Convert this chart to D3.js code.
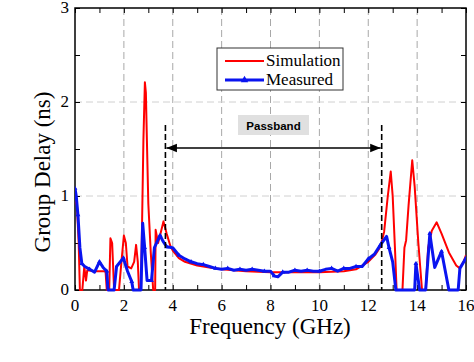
<!DOCTYPE html>
<style>
body { margin: 0; background: #fff; }
</style>
<svg width="474" height="362"></svg>
<script src="https://d3js.org/d3.v7.min.js"></script>
<script>

// simulated group delay (ns) vs frequency (GHz)
var simFreq  = [0,0.08,0.15,0.2,0.3,0.38,0.45,0.5,0.8,1.0,1.25,1.3,1.4,1.45,1.52,1.6,1.8,1.9,2.0,2.08,2.15,2.3,2.42,2.5,2.57,2.62,2.7,2.75,2.8,2.86,2.9,2.95,3.0,3.1,3.2,3.28,3.3,3.4,3.5,3.62,3.75,3.9,4.0,4.25,4.5,5.0,5.5,6.0,7.0,8.0,9.0,10.0,11.0,11.5,12.0,12.3,12.5,12.65,12.8,12.92,13.0,13.1,13.16,13.4,13.48,13.55,13.65,13.8,13.9,14.05,14.2,14.35,14.45,14.6,14.8,15.0,15.3,15.6,15.75,15.9,16.0];
var simDelay = [0.95,0.9,0.5,0,0,0.25,0.1,0.21,0.2,0.2,0.2,0,0,0.55,0.5,0,0,0.3,0.58,0.5,0.25,0.23,0.3,0.48,0.3,0,0,0.8,1.6,2.21,2.1,1.5,0.92,0.4,0,0,0.64,0.5,0.6,0.73,0.6,0.47,0.42,0.34,0.3,0.26,0.24,0.22,0.2,0.19,0.19,0.19,0.2,0.22,0.3,0.38,0.46,0.62,1.0,1.26,1.0,0.4,0,0,0.45,0.53,0.9,1.38,1.1,0.5,0,0,0.45,0.63,0.72,0.6,0.4,0.26,0.23,0.3,0.37];

// measured group delay
var measFreq  = [0,0.05,0.12,0.2,0.28,0.4,0.6,0.8,1.0,1.15,1.3,1.35,1.6,1.7,1.98,2.15,2.32,2.38,2.7,2.77,2.85,2.95,3.13,3.25,3.48,3.6,3.75,4.0,4.25,4.5,4.75,5.0,5.25,5.5,5.75,6.0,6.25,6.5,6.75,7.0,7.25,7.5,7.75,8.0,8.15,8.3,8.5,8.75,9.0,9.25,9.5,9.75,10.0,10.25,10.5,10.75,11.0,11.25,11.5,11.75,12.0,12.25,12.5,12.75,12.85,13.0,13.13,13.9,13.95,14.05,14.1,14.35,14.52,14.72,15.0,15.3,15.68,15.75,16.0];
var measDelay = [1.08,1.0,0.8,0.45,0.28,0.25,0.22,0.19,0.3,0.24,0.2,0,0,0.25,0.34,0.2,0.09,0,0,0.71,0.45,0.1,0.1,0.45,0.58,0.52,0.46,0.45,0.37,0.33,0.3,0.28,0.27,0.25,0.23,0.22,0.23,0.21,0.22,0.21,0.22,0.21,0.2,0.2,0.15,0.14,0.19,0.19,0.21,0.2,0.21,0.2,0.2,0.22,0.23,0.2,0.23,0.23,0.25,0.25,0.33,0.38,0.48,0.57,0.45,0.3,0,0,0.28,0.1,0,0,0.6,0.24,0.41,0,0,0.23,0.34];

var xTicks = [0,2,4,6,8,10,12,14,16];
var yTicks = [0,1,2,3];
var passband = [3.7, 12.55];

var serif = "'Liberation Serif', 'Times New Roman', serif";

var svg = d3.select("svg"),
    margin = {left: 75, top: 8},
    width = 466 - margin.left,
    height = 290 - margin.top;

var x = d3.scaleLinear().domain([0, 16]).range([margin.left, margin.left + width]);
var y = d3.scaleLinear().domain([0, 3]).range([margin.top + height, margin.top]);

var defs = svg.append("defs");
defs.append("clipPath").attr("id", "plot")
  .append("rect").attr("x", x(0)).attr("y", y(3)).attr("width", width).attr("height", height + 2);

// grid
svg.append("g").selectAll("line")
    .data(xTicks.filter(function(d) { return d > 0 && d < 16; }))
  .enter().append("line")
    .attr("x1", x).attr("x2", x)
    .attr("y1", y(0)).attr("y2", y(3))
    .attr("stroke", "#a8a8a8").attr("stroke-dasharray", "7,4");
svg.append("g").selectAll("line")
    .data([1, 2])
  .enter().append("line")
    .attr("y1", y).attr("y2", y)
    .attr("x1", x(0)).attr("x2", x(16))
    .attr("stroke", "#d0d0d0").attr("stroke-dasharray", "7,4");

// axes (ticks inward)
var minorX = d3.range(0, 17, 1), minorY = d3.range(0, 3.01, 0.5);
svg.append("g").attr("transform", "translate(0," + y(0) + ")")
    .call(d3.axisBottom(x).tickValues(minorX).tickSize(-5).tickFormat(""));
svg.append("g").attr("transform", "translate(0," + y(3) + ")")
    .call(d3.axisTop(x).tickValues(minorX).tickSize(-5).tickFormat(""));
svg.append("g").attr("transform", "translate(" + x(0) + ",0)")
    .call(d3.axisLeft(y).tickValues(minorY).tickSize(-5).tickFormat(""));
svg.append("g").attr("transform", "translate(" + x(16) + ",0)")
    .call(d3.axisRight(y).tickValues(minorY).tickSize(-5).tickFormat(""));
svg.selectAll(".domain").remove();
svg.selectAll(".tick line").attr("stroke", "#000");

svg.append("rect")
    .attr("x", x(0)).attr("y", y(3)).attr("width", width).attr("height", height)
    .attr("fill", "none").attr("stroke", "#000").attr("stroke-width", 1.5);

svg.append("g").selectAll("text")
    .data(xTicks)
  .enter().append("text")
    .style("font-family", serif).style("font-size", "17px")
    .attr("x", x).attr("y", y(0) + 21)
    .attr("text-anchor", "middle")
    .text(function(d) { return d; });
svg.append("g").selectAll("text")
    .data(yTicks)
  .enter().append("text")
    .style("font-family", serif).style("font-size", "17px")
    .attr("x", x(0) - 6).attr("y", function(d) { return y(d) + 5; })
    .attr("text-anchor", "end")
    .text(function(d) { return d; });

svg.append("text")
    .style("font-family", serif).style("font-size", "23px")
    .attr("x", 270).attr("y", 334)
    .attr("text-anchor", "middle")
    .text("Frequency (GHz)");
svg.append("text")
    .style("font-family", serif).style("font-size", "23px")
    .attr("transform", "translate(50,172) rotate(-90)")
    .attr("text-anchor", "middle")
    .text("Group Delay (ns)");

// curves
var line = d3.line().x(function(d) { return x(d[0]); }).y(function(d) { return y(d[1]); });
var sim = d3.zip(simFreq, simDelay), meas = d3.zip(measFreq, measDelay);
var curves = svg.append("g").attr("clip-path", "url(#plot)");

curves.append("path").datum(sim)
    .attr("d", line).attr("fill", "none")
    .attr("stroke", "#f00").attr("stroke-width", 2).attr("stroke-linejoin", "round");
curves.append("path").datum(meas)
    .attr("d", line).attr("fill", "none")
    .attr("stroke", "#0a14f0").attr("stroke-width", 3).attr("stroke-linejoin", "round");
curves.selectAll(".tri")
    .data(meas.filter(function(d, i) { return d[1] > 0 && i % 2 == 0; }))
  .enter().append("path")
    .attr("class", "tri")
    .attr("transform", function(d) { return "translate(" + x(d[0]) + "," + y(d[1]) + ")"; })
    .attr("d", d3.symbol(d3.symbolTriangle, 10))
    .attr("fill", "#0a14f0");

// passband markers
svg.append("g").selectAll("line")
    .data(passband)
  .enter().append("line")
    .attr("x1", x).attr("x2", x)
    .attr("y1", 125).attr("y2", y(0))
    .attr("stroke", "#000").attr("stroke-width", 1.6).attr("stroke-dasharray", "6,3");

defs.append("marker").attr("id", "arrow").attr("viewBox", "0 0 10 10")
    .attr("refX", 10).attr("refY", 5).attr("markerWidth", 7).attr("markerHeight", 7)
    .attr("orient", "auto-start-reverse")
  .append("path").attr("d", "M0,1L10,5L0,9z").attr("fill", "#000");

svg.append("line")
    .attr("x1", x(passband[0]) + 1).attr("x2", x(passband[1]) - 1)
    .attr("y1", 148).attr("y2", 148)
    .attr("stroke", "#000").attr("stroke-width", 1.5)
    .attr("marker-start", "url(#arrow)").attr("marker-end", "url(#arrow)");

svg.append("rect")
    .attr("x", 238).attr("y", 115).attr("width", 71).attr("height", 20)
    .attr("fill", "#e0e0e0");
svg.append("text")
    .attr("x", 273.5).attr("y", 129.5)
    .attr("text-anchor", "middle")
    .style("font-family", "'Liberation Sans', Arial, sans-serif")
    .style("font-weight", "bold").style("font-size", "11.5px")
    .text("Passband");

// legend
var legend = svg.append("g").attr("transform", "translate(217,48)");
legend.append("rect")
    .attr("width", 126).attr("height", 42)
    .attr("fill", "#fff").attr("stroke", "#333").attr("stroke-width", 1);
var items = [{name: "Simulation", color: "#f00", w: 2}, {name: "Measured", color: "#0a14f0", w: 3}];
items.forEach(function(it, i) {
  var yy = 13 + i * 19;
  legend.append("line")
      .attr("x1", 8).attr("x2", 47).attr("y1", yy).attr("y2", yy)
      .attr("stroke", it.color).attr("stroke-width", it.w);
  if (i == 1) {
    legend.append("path")
        .attr("transform", "translate(27.5," + yy + ")")
        .attr("d", d3.symbol(d3.symbolTriangle, 24)).attr("fill", it.color);
  }
  legend.append("text")
      .style("font-family", serif).style("font-size", "17px")
      .attr("x", 49).attr("y", yy + 5)
      .text(it.name);
});

</script>
